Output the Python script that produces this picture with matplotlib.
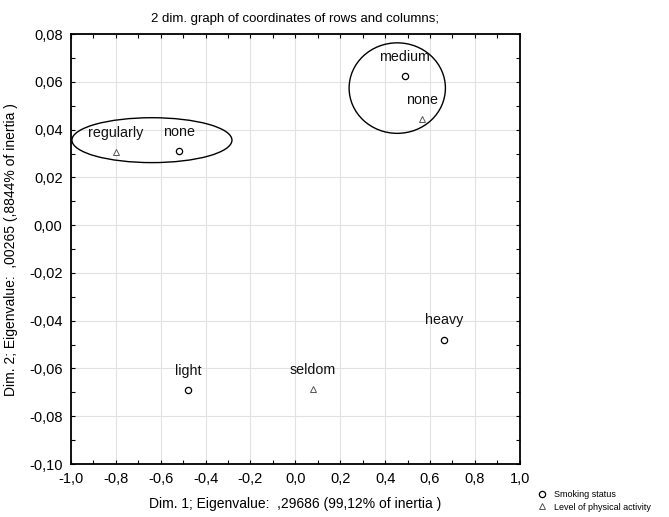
import matplotlib
matplotlib.use('Agg')
import matplotlib.pyplot as plt
from matplotlib.patches import Ellipse
from matplotlib.ticker import FuncFormatter, MultipleLocator

plt.rcParams['font.family'] = ['Liberation Sans', 'DejaVu Sans']

# Row points (smoking status)
smoking_labels = ['none', 'medium', 'heavy', 'light']
smoking_dim1 = [-0.519, 0.488, 0.661, -0.479]
smoking_dim2 = [0.0310, 0.0624, -0.0480, -0.0690]

# Column points (level of physical activity)
activity_labels = ['regularly', 'none', 'seldom']
activity_dim1 = [-0.800, 0.563, 0.078]
activity_dim2 = [0.0306, 0.0444, -0.0686]

# Groupings drawn as ellipses: centre x, centre y, width, height
group_cx = [-0.639, 0.454]
group_cy = [0.0356, 0.0574]
group_w = [0.713, 0.429]
group_h = [0.0188, 0.0379]

fig = plt.figure(figsize=(6.69, 5.17), dpi=100)
ax = fig.add_axes([0.106, 0.1025, 0.671, 0.8315])

ax.grid(True, color='#e2e2e2', linewidth=0.8, zorder=0)

ax.plot(smoking_dim1, smoking_dim2, linestyle='none', marker='o',
        markersize=4.5, markerfacecolor='white', markeredgecolor='black',
        markeredgewidth=0.9, label='Smoking status', zorder=3)
ax.plot(activity_dim1, activity_dim2, linestyle='none', marker='^',
        markersize=4.5, markerfacecolor='white', markeredgecolor='#555555',
        markeredgewidth=0.7, label='Level of physical activity', zorder=3)

for lab, x, y in zip(smoking_labels + activity_labels,
                     smoking_dim1 + activity_dim1,
                     smoking_dim2 + activity_dim2):
    ax.annotate(lab, (x, y), xytext=(0, 14), textcoords='offset points',
                ha='center', va='center', fontsize=10.3, color='#111111')

for cx, cy, w, h in zip(group_cx, group_cy, group_w, group_h):
    ax.add_patch(Ellipse((cx, cy), w, h, fill=False, edgecolor='black',
                         linewidth=1.0, zorder=2))

ax.set_xlim(-1.0, 1.0)
ax.set_ylim(-0.10, 0.08)
ax.xaxis.set_major_locator(MultipleLocator(0.2))
ax.xaxis.set_minor_locator(MultipleLocator(0.1))
ax.yaxis.set_major_locator(MultipleLocator(0.02))
ax.yaxis.set_minor_locator(MultipleLocator(0.01))
ax.xaxis.set_major_formatter(FuncFormatter(lambda v, p: f'{v:.1f}'.replace('.', ',').replace('-0,0', '0,0')))
ax.yaxis.set_major_formatter(FuncFormatter(lambda v, p: f'{v:.2f}'.replace('.', ',').replace('-0,00', '0,00')))
ax.tick_params(which='both', direction='in', top=True, right=True,
               labelsize=10.5, pad=6)
ax.tick_params(which='major', length=3, width=0.8)
ax.tick_params(which='minor', length=3, width=0.8)
for s in ax.spines.values():
    s.set_linewidth(1.3)

ax.set_title('2 dim. graph of coordinates of rows and columns;',
             fontsize=9.5, pad=9)
ax.set_xlabel('Dim. 1; Eigenvalue:  ,29686 (99,12% of inertia )',
              fontsize=10, labelpad=8)
ax.set_ylabel('Dim. 2; Eigenvalue:  ,00265 (,8844% of inertia )',
              fontsize=10, labelpad=8)

fig.legend(loc='lower left', bbox_to_anchor=(0.795, 0.0), frameon=False,
           fontsize=6.5, handlelength=1.0, handletextpad=0.9,
           labelspacing=0.4, borderaxespad=0.2)

fig.savefig('out.png', dpi=100)
